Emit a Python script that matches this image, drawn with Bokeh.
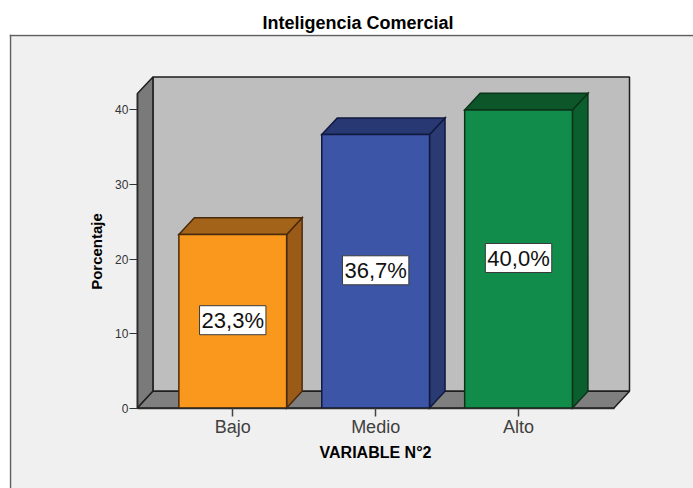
from math import pi

from bokeh.embed import file_html
from bokeh.models import FixedTicker, Label, Range1d, Span, Title
from bokeh.plotting import figure
from bokeh.resources import INLINE

categories = ["Bajo", "Medio", "Alto"]
percentages = [23.3, 36.7, 40.0]
value_labels = ["23,3%", "36,7%", "40,0%"]
y_ticks = [0, 10, 20, 30, 40]

front_colors = ["#F9981D", "#3D55A6", "#118C4A"]
top_colors = ["#A3641A", "#273873", "#0D5629"]
side_colors = ["#9A5B18", "#2A3B74", "#0B5F2E"]
edge_colors = ["#4A2A0C", "#10193F", "#0B3318"]

FONT = "Liberation Sans"
BAR_WIDTH = 0.754
DEPTH_X = 0.1085
DEPTH_Y = 2.24
FLOOR_LEFT, FLOOR_RIGHT = -0.667, 2.668
WALL_TOP = 42.2
X_START, X_END = -1.5623, 3.2243
Y_START, Y_END = -10.805, 50.134

# The frame fills the grey panel, so axes and captions are placed inside it.
p = figure(
    width=693, height=488, output_backend="svg", toolbar_location=None,
    x_range=Range1d(X_START, X_END), y_range=Range1d(Y_START, Y_END),
    frame_width=684, frame_height=454,
    min_border_left=9, min_border_right=0, min_border_top=34, min_border_bottom=0,
    border_fill_color="#FFFFFF", background_fill_color="#F0F0F0", outline_line_color=None,
    title=None,
)
p.grid.visible = False

# Panel border: left and top edges only, the others run off the page.
panel_edge = dict(line_color="#5F5F5F", line_width=1.5)
p.add_layout(Span(location=X_START + 0.007, dimension="height", **panel_edge))
p.add_layout(Span(location=Y_END - 0.134, dimension="width", **panel_edge))

p.add_layout(Title(text="Inteligencia Comercial", align="left", offset=253,
                   text_font=FONT, text_font_size="18px", text_font_style="bold",
                   text_color="#000000", standoff=4), "above")

# Box walls and floor of the 3D plot area.
wall_line = dict(line_color="#1E1E1E", line_width=1.5)
p.patch([FLOOR_LEFT + DEPTH_X, FLOOR_RIGHT + DEPTH_X, FLOOR_RIGHT + DEPTH_X, FLOOR_LEFT + DEPTH_X],
        [DEPTH_Y, DEPTH_Y, WALL_TOP + DEPTH_Y, WALL_TOP + DEPTH_Y], fill_color="#BEBEBE", **wall_line)
p.patch([FLOOR_LEFT, FLOOR_LEFT + DEPTH_X, FLOOR_LEFT + DEPTH_X, FLOOR_LEFT],
        [0, DEPTH_Y, WALL_TOP + DEPTH_Y, WALL_TOP], fill_color="#7A7A7A", **wall_line)
p.patch([FLOOR_LEFT, FLOOR_RIGHT, FLOOR_RIGHT + DEPTH_X, FLOOR_LEFT + DEPTH_X],
        [0, 0, DEPTH_Y, DEPTH_Y], fill_color="#7F7F7F", **wall_line)

# Each bar is three faces built from its percentage.
for i, v in enumerate(percentages):
    l, r = i - BAR_WIDTH / 2, i + BAR_WIDTH / 2
    edge = dict(line_color=edge_colors[i], line_width=1.5, line_join="miter")
    p.patch([r, r + DEPTH_X, r + DEPTH_X, r], [0, DEPTH_Y, v + DEPTH_Y, v], fill_color=side_colors[i], **edge)
    p.patch([l, r, r + DEPTH_X, l + DEPTH_X], [v, v, v + DEPTH_Y, v + DEPTH_Y], fill_color=top_colors[i], **edge)
    p.patch([l, r, r, l], [0, 0, v, v], fill_color=front_colors[i], **edge)
    p.add_layout(Label(
        x=i, y=v / 2, y_offset=1, text=value_labels[i], text_align="center", text_baseline="middle",
        text_font=FONT, text_font_size="22px", text_color="#111111", padding=2,
        background_fill_color="#FFFFFF", border_line_color="#3A3A3A", border_line_width=1,
    ))

# Axes
p.xaxis.fixed_location = 0
p.xaxis.ticker = FixedTicker(ticks=list(range(len(categories))))
p.xaxis.major_label_overrides = {i: c for i, c in enumerate(categories)}
p.xaxis.bounds = (FLOOR_LEFT, FLOOR_RIGHT)
p.xaxis.axis_line_color = "#2A2A2A"
p.xaxis.axis_line_width = 1.5
p.xaxis.major_tick_line_color = "#444444"
p.xaxis.major_tick_line_width = 1.5
p.xaxis.major_tick_in = 0
p.xaxis.major_tick_out = 8
p.xaxis.minor_tick_line_color = None
p.xaxis.major_label_standoff = 1
p.xaxis.major_label_text_font = FONT
p.xaxis.major_label_text_font_size = "18px"
p.xaxis.major_label_text_color = "#404040"

p.yaxis.fixed_location = FLOOR_LEFT
p.yaxis.ticker = FixedTicker(ticks=y_ticks)
p.yaxis.bounds = (0, WALL_TOP)
p.yaxis.axis_line_color = "#2A2A2A"
p.yaxis.axis_line_width = 1.5
p.yaxis.major_tick_line_color = "#333333"
p.yaxis.major_tick_line_width = 1.2
p.yaxis.major_tick_in = 0
p.yaxis.major_tick_out = 8
p.yaxis.minor_tick_line_color = None
p.yaxis.major_label_standoff = 1
p.yaxis.major_label_text_font = FONT
p.yaxis.major_label_text_font_size = "12px"
p.yaxis.major_label_text_color = "#333333"

# Axis captions sit off-centre from the frame, so they are placed directly.
caption = dict(x_units="canvas", y_units="canvas", text_font=FONT, text_font_style="bold",
               text_color="#000000", text_align="center", text_baseline="middle")
p.add_layout(Label(x=375, y=452, text="VARIABLE N°2", text_font_size="16px", **caption))
p.add_layout(Label(x=96, y=251, text="Porcentaje", text_font_size="15px", angle=pi / 2, **caption))

open("out.html", "w").write(file_html(p, INLINE))
